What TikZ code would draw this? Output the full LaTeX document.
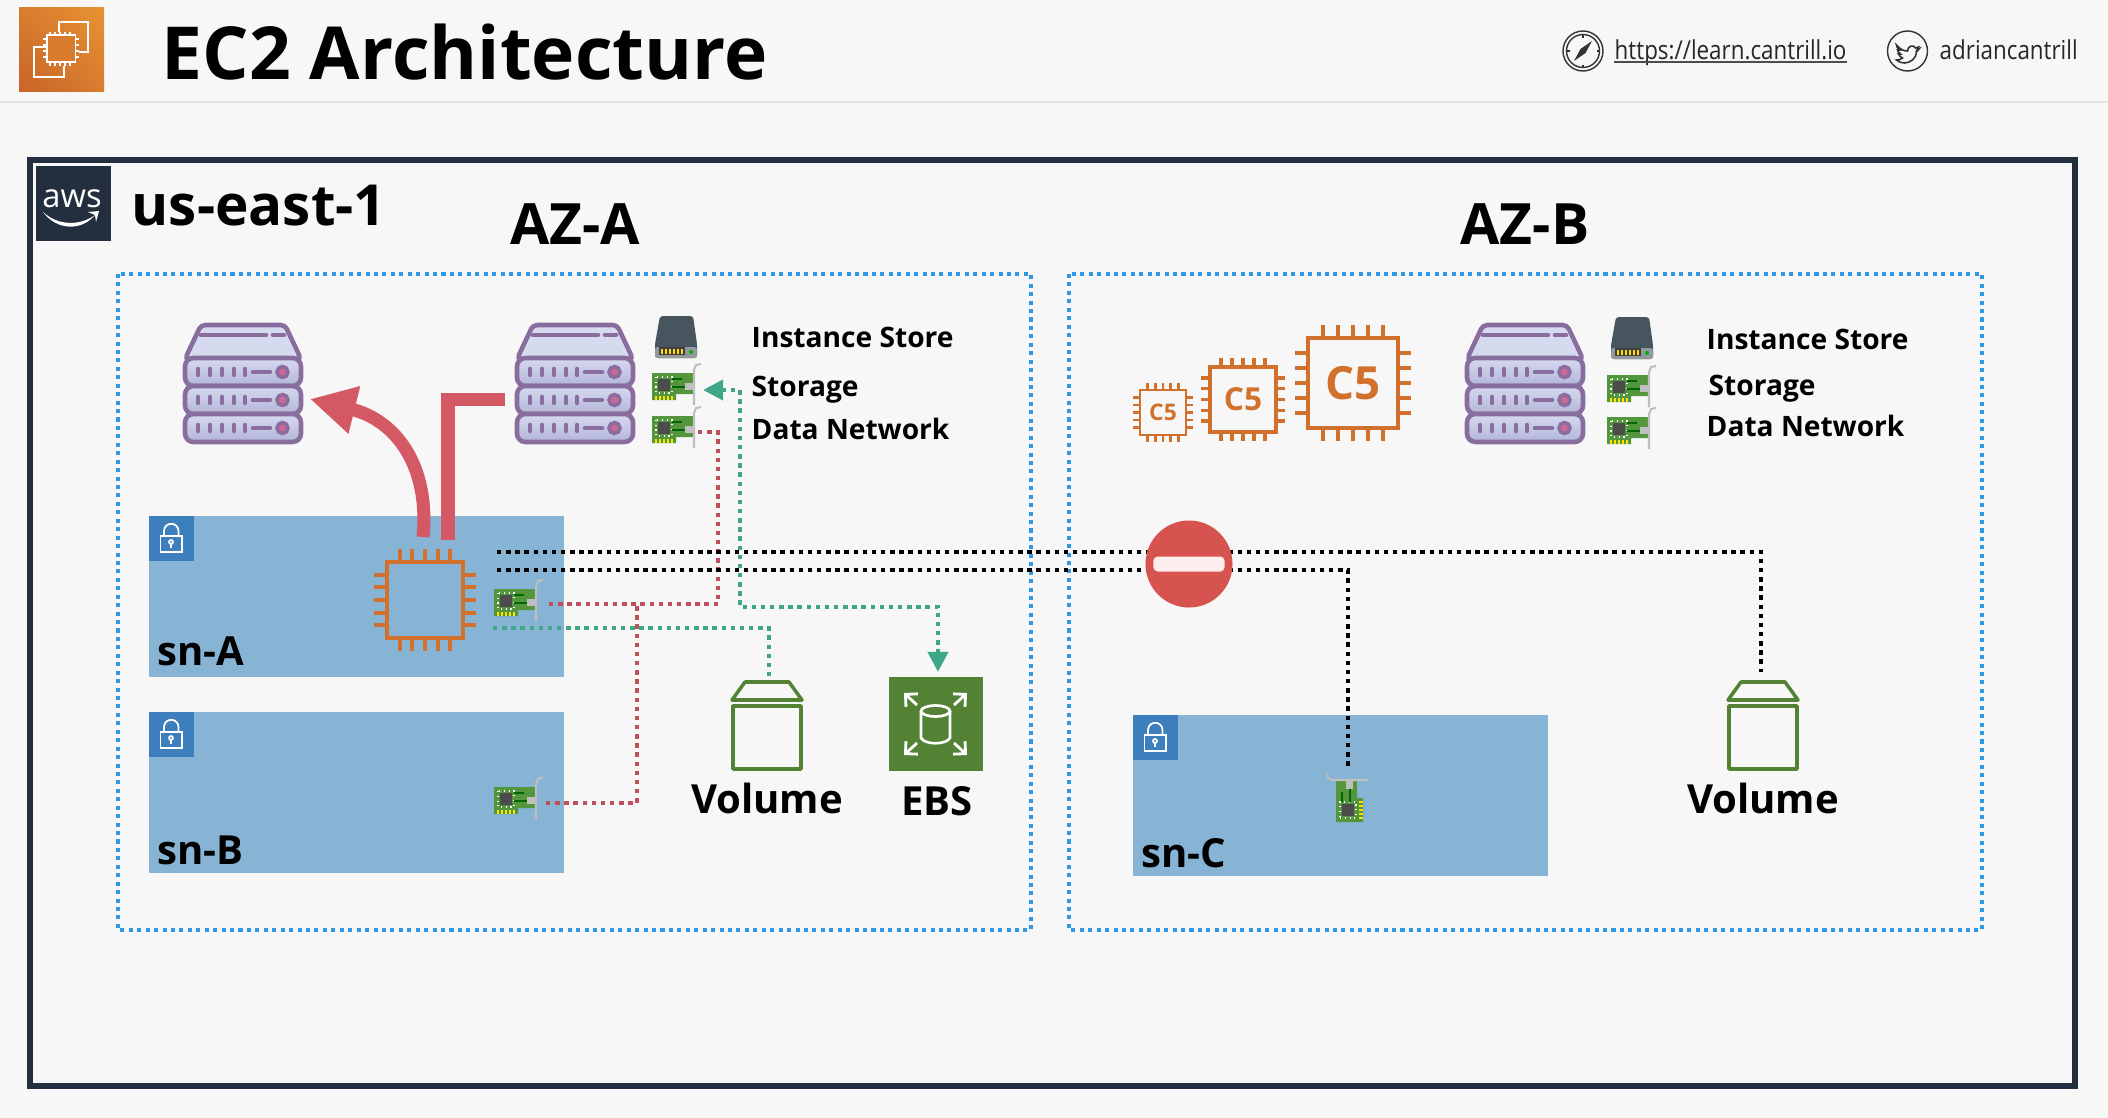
\documentclass[tikz,border=0pt]{standalone}
\usepackage{fontspec}
\setmainfont{Open Sans}
\newfontfamily\headfont[FakeStretch=.86]{Open Sans}
\usetikzlibrary{arrows.meta,positioning,shapes.geometric,shadings}
\definecolor{cPage}{RGB}{247,247,247}
\definecolor{cInk}{RGB}{35,47,62}
\definecolor{cZone}{RGB}{47,152,228}
\definecolor{cSubnet}{RGB}{135,179,212}
\definecolor{cLock}{RGB}{61,126,188}
\definecolor{cChip}{RGB}{210,113,44}
\definecolor{cVol}{RGB}{84,130,53}
\definecolor{cRed}{RGB}{212,89,101}
\definecolor{cStop}{RGB}{215,83,80}
\definecolor{cTeal}{RGB}{63,166,135}
\definecolor{cSrvLine}{RGB}{138,109,159}
\definecolor{cSrvTop}{RGB}{214,218,238}
\definecolor{cSrvLow}{RGB}{178,182,216}
\definecolor{cPink}{RGB}{205,105,150}
\definecolor{cBoard}{RGB}{84,150,62}
\definecolor{cDisk}{RGB}{71,85,95}
\definecolor{cOrangeA}{RGB}{200,100,42}
\definecolor{cOrangeB}{RGB}{232,146,50}
\definecolor{cOrangeC}{RGB}{216,124,46}
\tikzset{
  bigtext/.style={font=\bfseries\fontsize{16.2}{20}\selectfont, inner sep=0pt, anchor=base},
  midtext/.style={font=\bfseries\fontsize{11.4}{14}\selectfont, inner sep=0pt, anchor=base},
  sidetext/.style={font=\bfseries\fontsize{8}{10}\selectfont, inner sep=0pt, anchor=west},
  headtext/.style={font=\headfont\fontsize{7.4}{10}\selectfont, text=black!85, inner sep=0pt, anchor=base west},
  zonebox/.style={draw=cZone, line width=1.3pt, dash pattern=on 1.15pt off 1.25pt},
  subnet/.style={fill=cSubnet, anchor=north west, inner sep=0pt, outer sep=0pt, minimum width=4.15cm, minimum height=1.61cm},
  lockbox/.style={fill=cLock, anchor=north west, inner sep=0pt, outer sep=0pt, minimum size=.45cm},
  chipbody/.style={draw=cChip, text=cChip, inner sep=0pt, outer sep=0pt, font=\bfseries},
  volbox/.style={draw=cVol, line width=1pt, line join=round},
  blackdot/.style={draw=black, line width=1.3pt, dash pattern=on 1.25pt off 1.35pt},
  reddot/.style={draw=cRed!90!black, line width=1.3pt, dash pattern=on 1.25pt off 1.35pt},
  tealdot/.style={draw=cTeal, line width=1.3pt, dash pattern=on 1.25pt off 1.35pt},
  fatred/.style={draw=cRed, line width=3.7pt},
  tealtip/.style={{Triangle[length=5.7pt,width=5.6pt]}-{Triangle[length=5.7pt,width=5.6pt]}},
  pics/server/.style={code={
    \draw[cSrvLine, line width=1.3pt, rounded corners=1.2pt, fill=cSrvTop] (2,36) -- (18,2) -- (102,2) -- (118,36) -- cycle;
    \draw[cSrvLine, line width=1.3pt, line cap=round] (18,12) -- (83,12) (90,12) -- (101,12);
    \foreach \u/\h in {35/28,63/28,91/28} {
      \draw[cSrvLine, line width=1.3pt, rounded corners=2.4pt, top color=cSrvTop, bottom color=cSrvLow] (2,\u) rectangle (118,{\u+\h});
      \foreach \d in {15,27,39,51,62} { \draw[cSrvLine, line width=1.3pt, line cap=round] (\d,{\u+\h/2-3}) -- (\d,{\u+\h/2+3}); }
      \draw[cSrvLine, line width=1.3pt, line cap=round] (70,{\u+\h/2}) -- (87,{\u+\h/2});
      \draw[cSrvLine, line width=1pt, fill=cPink] (99.5,{\u+\h/2}) circle (5.5);
    }
  }},
  pics/disk/.style={code={
    \fill[cDisk, rounded corners=.8pt] (0,42) -- (0,28) -- (5,0) -- (38,0) -- (42,28) -- (42,42) -- cycle;
    \fill[cDisk!60!white, rounded corners=.8pt] (0,31) rectangle (42,42);
    \fill[black!75] (4,31) rectangle (30,39);
    \foreach \d in {6,10,14,18,22,26} { \fill[yellow!80!orange] (\d,33) rectangle ({\d+2},38); }
    \fill[green!70!black] (36,36) circle (2);
  }},
  pics/nic/.style={code={
    \fill[cBoard] (0,0) -- (42,0) -- (42,27) -- (41,21) -- (24,21) -- (24,27) -- (0,27) -- cycle;
    \fill[black!70] (6,6) rectangle (18,18);
    \draw[white, line width=.35pt, densely dotted] (4,4) rectangle (20,20);
    \draw[black!60!green, line width=.5pt] (20,6) -- (30,6) (20,14) -- (34,14);
    \fill[black!25] (33,10) rectangle (42,17);
    \foreach \d in {3,7,11,15,19} { \fill[yellow!85!orange] (\d,23) rectangle ({\d+2.4},27); }
    \draw[black!25, line width=.6pt] (42,32) -- (42,-3) -- (44,-8) -- (49,-9);
  }},
  pics/lock/.style={code={
    \draw[white, line width=.5pt] (11.5,20) rectangle (33,36);
    \draw[white, line width=.5pt] (15,20) -- (15,15) arc[start angle=180, end angle=360, radius=7.25] -- (29.5,20);
    \draw[white, line width=.5pt] (22,26) circle (2);
    \draw[white, line width=.5pt] (22,28) -- (22,32);
  }}
}
\begin{document}
\begin{tikzpicture}[x=0.01cm, y=-0.01cm]
\fill[cPage] (0,0) rectangle (2108,1118);
\useasboundingbox (0,0) rectangle (2108,1118);
% header
\draw[black!10, line width=.5pt] (0,102) -- (2108,102);
\shade[lower left=cOrangeA, upper right=cOrangeB, lower right=cOrangeC, upper left=cOrangeC] (19,7) rectangle (104,91);
\draw[white, line width=.55pt] (59,32) -- (59,22) -- (88,22) -- (88,52) -- (79,52);
\draw[white, line width=.55pt] (47,47) -- (34,47) -- (34,77) -- (64,77) -- (64,66);
\draw[white, line width=.55pt, fill=cOrangeC] (47,35) rectangle (75.5,62);
\foreach \d in {50,55,60,65,70} { \draw[white, line width=.5pt] (\d,32) -- (\d,35) (\d,62) -- (\d,66); }
\foreach \d in {39,45,51,57} { \draw[white, line width=.5pt] (43,\d) -- (47,\d) (75.5,\d) -- (79,\d); }
\node[inner sep=0pt, anchor=base west, font=\bfseries\fontsize{20.8}{24}\selectfont] (title) at (161,79) {EC2 Architecture};
\draw[black!80, line width=.4pt] (1583,51) circle (20) (1583,51) circle (16.5);
\foreach \a in {0,90,180,270} { \draw[black!80, line width=.4pt] (1583,51) ++(\a:16.5) -- ++(\a:-3); }
\fill[black!80] (1574,61) -- (1580.5,49) -- (1592,41) -- (1585.5,53) -- cycle;
\node[headtext] (site) at (1614,60) {https://learn.cantrill.io};
\draw[black!70, line width=.5pt] ([yshift=-.6pt]site.base west) -- ([yshift=-.6pt]site.base east);
\draw[black!80, line width=.4pt] (1907.5,51) circle (20);
\draw[black!80, line width=.45pt, shift={(1907.5,52)}] (-11,-7) .. controls (-7,-2) and (-3,-1) .. (0,-1) .. controls (0,-6) and (6,-8) .. (8,-4) -- (11,-5) -- (9.5,-2) -- (11.5,-3) -- (9,0) .. controls (9,6) and (3,11) .. (-3,11) .. controls (-6,11) and (-9,10) .. (-11,8) .. controls (-8,8) and (-6,7) .. (-5,6) .. controls (-7,5) and (-8,4) .. (-9,2) -- (-7,2) .. controls (-9,1) and (-10,-1) .. (-10,-2) -- (-8,-2) .. controls (-10,-4) and (-11,-5) .. (-11,-7) -- cycle;
\node[headtext] (handle) at (1939,60) {adriancantrill};
% region
\draw[cInk, line width=1.45pt] (30,160) rectangle (2075,1086);
\fill[cInk] (36,166) rectangle (111,241);
\node[inner sep=0pt, anchor=base, text=white, font=\fontsize{9.3}{12}\selectfont] (awstxt) at (72,207) {aws};
\fill[white] (43,212) .. controls (58,226) and (80,226) .. (95,215) .. controls (82,231) and (57,231) .. (43,212) -- cycle;
\fill[white] (88,212) -- (99,211) -- (96,222) -- (95,215) -- cycle;
\node[inner sep=0pt, anchor=base west, font=\bfseries\fontsize{16.1}{18}\selectfont] (region) at (131,225) {us-east-1};
\node[bigtext] (azA) at (575,244) {AZ-A};
\node[bigtext] (azB) at (1525,244) {AZ-B};
\draw[zonebox] (118,274) rectangle (1031,930);
\draw[zonebox] (1069,274) rectangle (1982,930);
% subnets
\foreach \n/\x/\y/\b/\l in {snA/149/516/665/sn-A, snB/149/712/864/sn-B, snC/1133/715/867/sn-C} {
  \node[subnet] (\n) at (\x,\y) {};
  \node[lockbox] (\n lock) at (\x,\y) {};
  \pic at (\x,\y) {lock};
  \node[midtext, anchor=base west] (\n text) at ({\x+8},\b) {\l};
}
% servers, disks, cards
\pic (srvL) at (183,323) {server};
\pic (srvA) at (515,323) {server};
\pic (srvB) at (1465,323) {server};
\pic (diskA) at (655,316) {disk};
\pic (diskB) at (1611,317) {disk};
\foreach \x/\y in {652/373, 652/416, 1607/375, 1607/417, 494/589, 494/787} { \pic at (\x,\y) {nic}; }
\pic[rotate=90] at (1336,822) {nic};
% chips
\foreach \n/\cx/\cy/\w/\h/\lw/\pin/\fs/\l in {chipA/425/600/76/76/1.2/13/8/{},
    c5s/1163/412.5/46/45/.75/7/6.5/C5, c5m/1243/399.5/66/65/1/9/9/C5, c5l/1353/383/90/90/1.35/13/13/C5} {
  \node[chipbody, line width=\lw pt, minimum width=\w*0.01cm, minimum height=\h*0.01cm, font=\bfseries\fontsize{\fs}{\fs}\selectfont] (\n) at (\cx,\cy) {\l};
  \foreach \k in {-2,...,2} {
    \draw[cChip, line width=\lw pt] ({\cx+\k*\w/6},{\cy-\h/2}) -- ++(0,-\pin) ({\cx+\k*\w/6},{\cy+\h/2}) -- ++(0,\pin);
    \draw[cChip, line width=\lw pt] ({\cx-\w/2},{\cy+\k*\h/6}) -- ++(-\pin,0) ({\cx+\w/2},{\cy+\k*\h/6}) -- ++(\pin,0);
  }
}
% volumes and ebs
\foreach \n/\cx in {volA/767, volB/1763} {
  \draw[volbox] ({\cx-35},700) -- ({\cx-22},682) -- ({\cx+22},682) -- ({\cx+35},700) -- cycle;
  \node[volbox, draw, inner sep=0pt, outer sep=0pt, minimum width=.68cm, minimum height=.63cm, anchor=north] (\n) at (\cx,706) {};
  \node[midtext] (\n text) at (\cx,813) {Volume};
}
\node[fill=cVol, inner sep=0pt, outer sep=0pt, minimum width=.94cm, minimum height=.94cm, anchor=north west] (ebs) at (889,677) {};
\node[midtext] (ebstext) at (937,815) {EBS};
\draw[white, line width=.75pt] (921,711) -- (921,738) .. controls (925,745) and (946,745) .. (950,738) -- (950,711);
\draw[white, line width=.75pt] (935.5,711) ellipse (14.5 and 5.5);
\foreach \a/\b/\c/\d in {917/705/904/693, 954/705/967/693, 917/743/904/755, 954/743/967/755} {
  \draw[white, line width=.8pt, -{Straight Barb[length=2.5pt,width=5pt]}] (\a,\b) -- (\c,\d);
}
% side labels
\foreach \n/\x/\y/\l in {isA/751/337/Instance Store, stA/751/390/Storage, dnA/751/429/Data Network,
                         isB/1706/339/Instance Store, stB/1708/389/Storage, dnB/1706/426/Data Network} {
  \node[sidetext] (\n) at (\x,\y) {\l};
}
% connector ends
\coordinate (blkA) at (497,552);
\coordinate (blkB) at (497,570);
\coordinate (volBtop) at (1761,672);
\coordinate (nicCtop) at (1348,770);
\coordinate (nicAout) at (546,604);
\coordinate (nicBout) at (546,803);
\coordinate (nicNout) at (698,432);
\coordinate (redCorner) at (718,604);
\coordinate (redTap) at (637,604);
\coordinate (tealA) at (493,628);
\coordinate (volAtop) at (769,678);
\coordinate (nicNin) at (703,390);
\coordinate (tealMid) at (740,607);
\coordinate (ebsIn) at (938,672);
\coordinate (curveFrom) at (423,537);
\coordinate (curveTo) at (310,399);
\coordinate (elbowFrom) at (505,399.5);
\coordinate (elbowTo) at (448,540);
% connectors
\draw[reddot] (nicNout) -| (redCorner) -- (nicAout);
\draw[reddot] (nicBout) -| (redTap);
\draw[tealdot] (tealA) -| (volAtop);
\draw[tealdot, tealtip] (nicNin) -| (tealMid) -| (ebsIn);
\draw[blackdot] (blkA) -| (volBtop);
\draw[blackdot] (blkB) -| (nicCtop);
\draw[fatred, -{Triangle[length=13pt,width=13pt]}] (curveFrom) .. controls (430,465) and (395,420) .. (curveTo);
\draw[fatred] (elbowFrom) -| (elbowTo);
\node[circle, fill=cStop, inner sep=0pt, minimum size=.87cm] (stop) at (1189,564) {};
\node[fill=white!90!cStop, rounded corners=1.2pt, inner sep=0pt, minimum width=.71cm, minimum height=.15cm] (stopbar) at (stop) {};
\end{tikzpicture}
\end{document}
